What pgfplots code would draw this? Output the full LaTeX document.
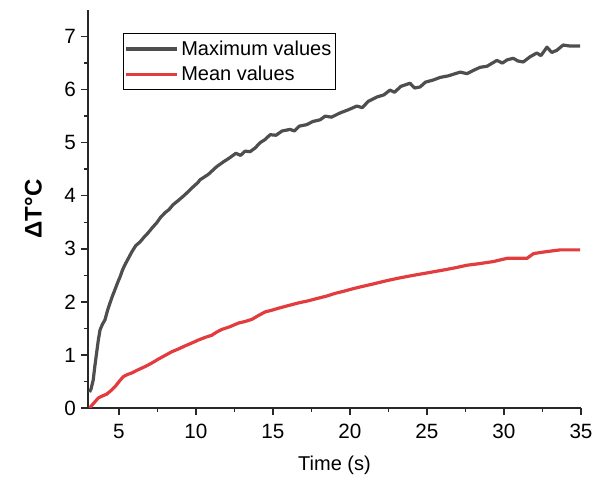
\documentclass[border=0pt]{standalone}
\usepackage{fontspec}
\setmainfont{Liberation Sans}
\usepackage{pgfplots}
\pgfplotsset{compat=1.18}
\definecolor{maxgray}{RGB}{78,78,78}
\definecolor{meanred}{RGB}{226,60,62}
\definecolor{axisgray}{RGB}{40,40,40}

\begin{document}
\begin{tikzpicture}[x=1pt,y=1pt]
\begin{axis}[
  scale only axis,
  width=369.75pt, height=298.5pt,
  xmin=3, xmax=35, ymin=0, ymax=7.5,
  axis lines*=left,
  axis line style={axisgray, line width=1.1pt},
  xtick={5,10,15,20,25,30,35},
  ytick={0,1,2,3,4,5,6,7},
  minor x tick num=1, minor y tick num=1,
  tick align=outside,
  major tick length=5.5pt, minor tick length=3pt,
  every tick/.style={axisgray, line width=1.1pt},
  tick label style={font=\fontsize{15.5}{17}\selectfont},
  xticklabel style={yshift=-3pt},
  /pgf/number format/assume math mode=true,
  xlabel={Time (s)},
  ylabel={ΔT°C},
  xlabel style={font=\fontsize{15}{17}\selectfont, yshift=-6pt},
  ylabel style={font=\fontsize{18}{20}\selectfont\bfseries, yshift=10pt},
  legend style={at={(rel axis cs:0.071,0.942)}, anchor=north west,
    draw=black, line width=0.6pt, font=\fontsize{15}{17}\selectfont,
    inner xsep=1pt, inner ysep=3.5pt, row sep=2.5pt,
    /tikz/every even column/.append style={column sep=0pt}},
  legend cell align=left,
  legend image code/.code={\draw[#1] (0pt,0pt) -- (38pt,0pt);},
]
\coordinate (O) at (rel axis cs:0,0);
\addplot[maxgray, line width=2.4pt, line join=round] coordinates {
(3.10,0.30) (3.20,0.36) (3.34,0.53) (3.45,0.80) (3.56,1.04) (3.67,1.28)
(3.78,1.47) (3.94,1.58) (4.10,1.66) (4.27,1.84) (4.43,1.98) (4.60,2.12)
(4.75,2.23) (4.92,2.36) (5.08,2.47) (5.24,2.60) (5.40,2.70) (5.62,2.82)
(5.84,2.94) (6.10,3.06) (6.38,3.13) (6.64,3.22) (6.90,3.30) (7.18,3.40)
(7.46,3.49) (7.73,3.60) (8.00,3.68) (8.26,3.74) (8.52,3.83) (8.90,3.92)
(9.30,4.02) (9.72,4.14) (10.14,4.25) (10.27,4.30) (10.80,4.40) (11.36,4.55)
(11.80,4.64) (12.22,4.72) (12.60,4.80) (12.90,4.76) (13.20,4.84) (13.52,4.83)
(13.85,4.90) (14.17,5.00) (14.50,5.06) (14.82,5.15) (15.20,5.14) (15.60,5.22)
(16.12,5.25) (16.40,5.22) (16.70,5.31) (17.20,5.34) (17.60,5.40) (18.06,5.43)
(18.40,5.50) (18.80,5.48) (19.36,5.56) (19.90,5.62) (20.45,5.69) (20.80,5.66)
(21.20,5.78) (21.75,5.86) (22.20,5.90) (22.60,5.99) (22.90,5.95) (23.30,6.06)
(23.90,6.12) (24.20,6.03) (24.56,6.05) (24.90,6.14) (25.40,6.18) (25.86,6.23)
(26.40,6.26) (27.16,6.33) (27.60,6.30) (28.00,6.36) (28.45,6.42) (28.90,6.44)
(29.54,6.55) (29.90,6.50) (30.20,6.56) (30.60,6.59) (30.90,6.54) (31.25,6.52)
(31.70,6.62) (32.14,6.69) (32.40,6.64) (32.79,6.80) (33.10,6.70) (33.43,6.74)
(33.84,6.84) (34.30,6.82) (34.95,6.82)
};
\addlegendentry{Maximum values}
\addplot[meanred, line width=2.4pt, line join=round] coordinates {
(3.10,0.00) (3.40,0.10) (3.67,0.19) (3.95,0.23) (4.21,0.26) (4.50,0.33)
(4.75,0.40) (5.02,0.50) (5.29,0.59) (5.55,0.63) (5.84,0.66) (6.25,0.72)
(6.70,0.78) (7.10,0.84) (7.56,0.92) (8.00,0.99) (8.44,1.06) (8.85,1.11)
(9.30,1.17) (9.70,1.22) (10.16,1.28) (10.60,1.33) (11.03,1.37) (11.35,1.43)
(11.68,1.48) (12.20,1.53) (12.76,1.60) (13.20,1.63) (13.63,1.67) (14.05,1.74)
(14.49,1.81) (14.90,1.84) (15.36,1.88) (16.00,1.93) (16.66,1.98) (17.30,2.02)
(17.95,2.07) (18.50,2.11) (19.04,2.16) (19.60,2.20) (20.23,2.25) (20.80,2.29)
(21.40,2.33) (22.40,2.40) (23.20,2.45) (24.12,2.50) (25.10,2.55) (26.07,2.60)
(26.80,2.64) (27.59,2.69) (28.40,2.72) (29.32,2.76) (30.19,2.82) (30.80,2.82)
(31.49,2.82) (31.92,2.91) (32.60,2.94) (33.65,2.98) (34.95,2.98)
};
\addlegendentry{Mean values}
\end{axis}
\pgfresetboundingbox
\path[use as bounding box] (O) ++(-66pt,-54.75pt) rectangle ++(453pt,360.75pt);
\end{tikzpicture}
\end{document}
